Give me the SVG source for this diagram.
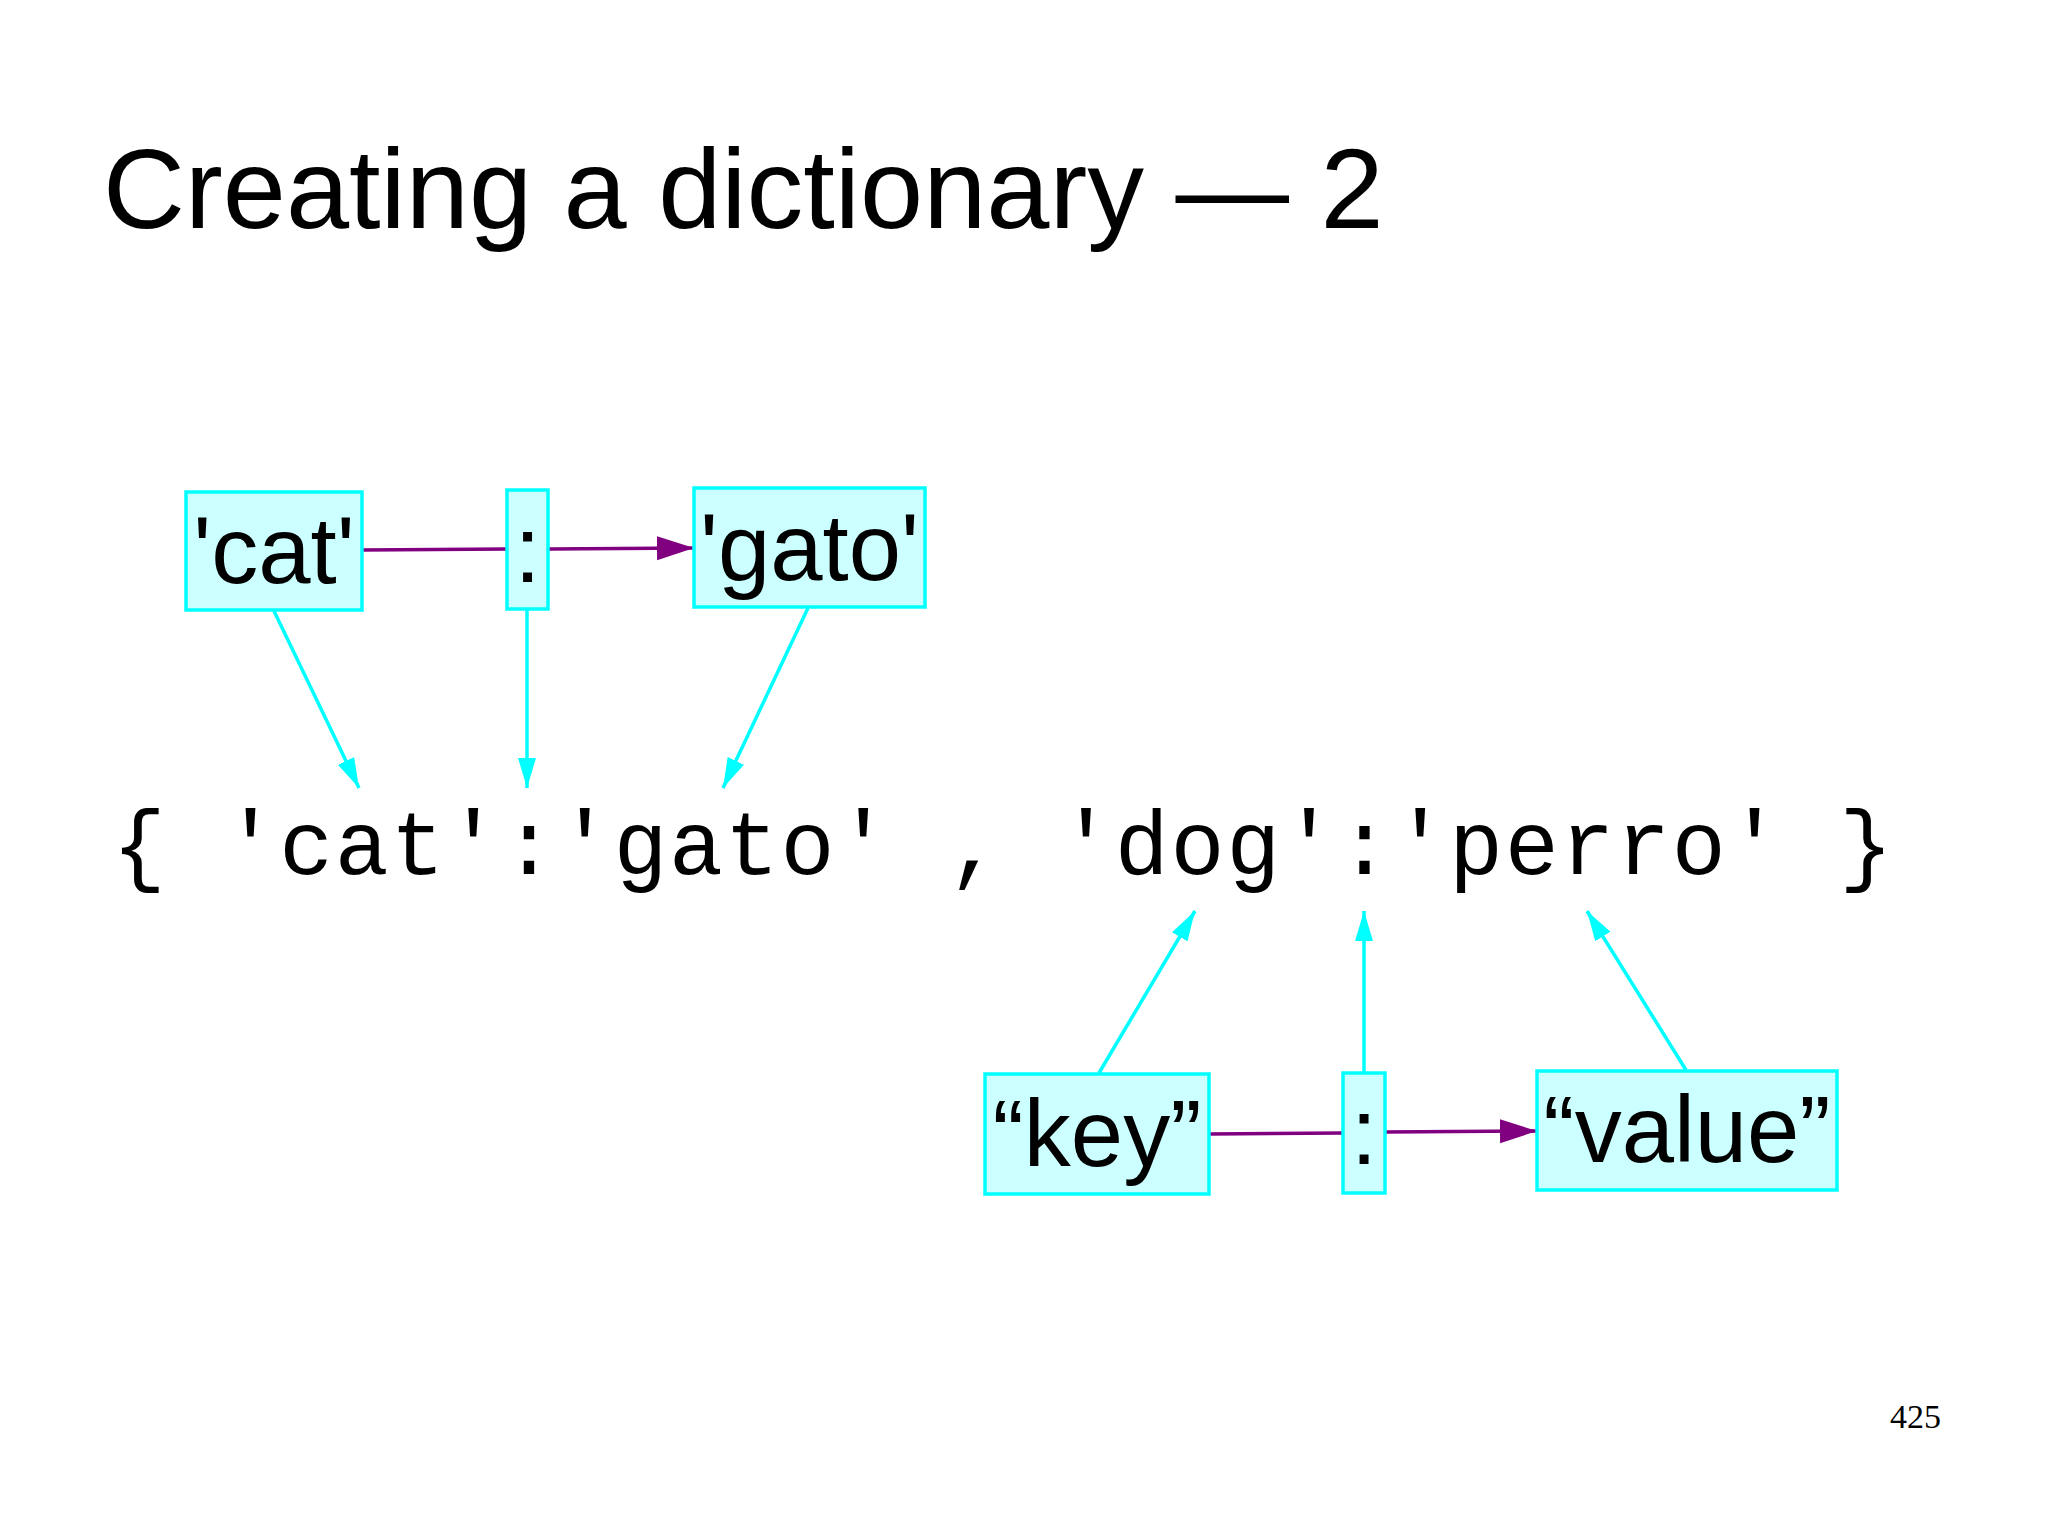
<svg xmlns="http://www.w3.org/2000/svg" width="2048" height="1535" viewBox="0 0 2048 1535">
  <style>
    .box { fill: #CCFFFF; stroke: #00FFFF; stroke-width: 3.5; }
    .lbl { font-family: 'Liberation Sans', Arial, sans-serif; font-size: 94px; fill: #000; text-anchor: middle; }
    .cy { stroke: #00FFFF; stroke-width: 3.5; fill: none; marker-end: url(#cyanHead); }
    .pu { stroke: #800080; stroke-width: 3.6; fill: none; }
    .pua { marker-end: url(#purpleHead); }
  </style>
  <defs>
    <marker id="cyanHead" markerUnits="userSpaceOnUse" markerWidth="31" markerHeight="19" refX="30" refY="9" orient="auto">
      <path d="M0,0 L30,9 L0,18 z" fill="#00FFFF"/>
    </marker>
    <marker id="purpleHead" markerUnits="userSpaceOnUse" markerWidth="38" markerHeight="25" refX="37" refY="12" orient="auto">
      <path d="M0,0 L37,12 L0,24 z" fill="#800080"/>
    </marker>
  </defs>
  <rect width="2048" height="1535" fill="#FFFFFF"/>

  <g id="title">
    <text x="103" y="228" font-family="'Liberation Sans', Arial, sans-serif" font-size="113.5" fill="#000">Creating a dictionary — 2</text>
  </g>

  <g id="code">
    <text x="112" y="874" font-family="'Liberation Mono', 'Courier New', monospace" font-size="90" letter-spacing="1.7" fill="#000" xml:space="preserve">{ 'cat':'gato' , 'dog':'perro' }</text>
  </g>

  <g id="connectors">
    <line class="pu" x1="362" y1="550" x2="507" y2="549"/>
    <line class="pu pua" x1="548" y1="549" x2="694" y2="548"/>
    <line class="pu" x1="1209" y1="1134" x2="1343" y2="1133"/>
    <line class="pu pua" x1="1385" y1="1132" x2="1537" y2="1131"/>
    <line class="cy" x1="274" y1="611" x2="359" y2="788"/>
    <line class="cy" x1="527" y1="610" x2="527" y2="788"/>
    <line class="cy" x1="808" y1="608" x2="723" y2="788"/>
    <line class="cy" x1="1099" y1="1073" x2="1195" y2="911"/>
    <line class="cy" x1="1364" y1="1072" x2="1364" y2="911"/>
    <line class="cy" x1="1686" y1="1070" x2="1587" y2="911"/>
  </g>

  <g id="node-cat">
    <rect class="box" x="186" y="492" width="176" height="118"/>
    <text class="lbl" x="274" y="583">'cat'</text>
  </g>
  <g id="node-colon1">
    <rect class="box" x="507" y="490" width="41" height="119"/>
    <text class="lbl" x="527.5" y="582">:</text>
  </g>
  <g id="node-gato">
    <rect class="box" x="694" y="488" width="231" height="119"/>
    <text class="lbl" x="809.5" y="580">'gato'</text>
  </g>
  <g id="node-key">
    <rect class="box" x="985" y="1074" width="224" height="120"/>
    <text class="lbl" x="1097" y="1166">“key”</text>
  </g>
  <g id="node-colon2">
    <rect class="box" x="1343" y="1073" width="42" height="120"/>
    <text class="lbl" x="1364" y="1164">:</text>
  </g>
  <g id="node-value">
    <rect class="box" x="1537" y="1071" width="300" height="119"/>
    <text class="lbl" x="1687" y="1162">“value”</text>
  </g>

  <g id="page-number">
    <text x="1890" y="1428" font-family="'Liberation Serif', 'DejaVu Serif', serif" font-size="34" fill="#000">425</text>
  </g>
</svg>
